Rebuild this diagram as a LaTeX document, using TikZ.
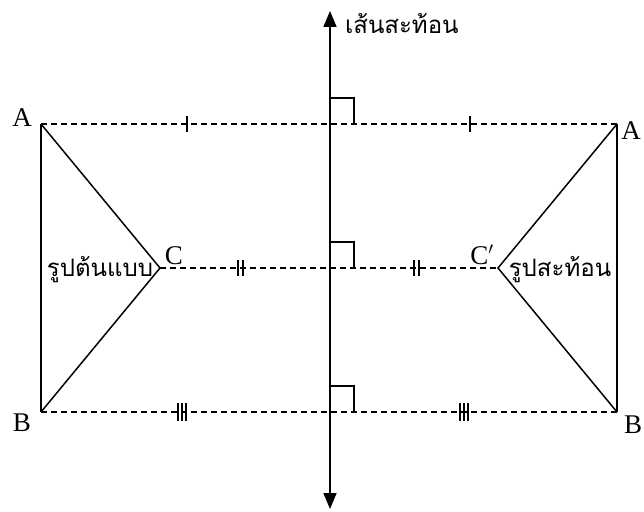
\documentclass[tikz,border=0pt]{standalone}
\usepackage{fontspec}
\setmainfont{Liberation Serif}
\newfontfamily\thaifont[Script=Thai]{Loma}
\usetikzlibrary{arrows.meta}
\tikzset{
  edge/.style={line width=1.5pt},
  dline/.style={line width=1.4pt, dash pattern=on 6pt off 4pt},
  tick/.style={line width=1.4pt},
  lbl/.style={font=\fontsize{27}{30}\selectfont, inner sep=0pt, anchor=base},
  thai/.style={font=\thaifont\fontsize{24}{28}\selectfont, inner sep=0pt, anchor=base},
  rmark/.style={line width=1.4pt},
}
\begin{document}
\begin{tikzpicture}[x=1pt,y=-1pt]
\useasboundingbox (0,0) rectangle (644,511);
% points
\coordinate (A) at (41,124);
\coordinate (B) at (41,412);
\coordinate (C) at (160,268);
\coordinate (A2) at (617,124);
\coordinate (B2) at (617,412);
\coordinate (C2) at (498,268);
\coordinate (top) at (330,11);
\coordinate (bot) at (330,509);
% axis
\draw[edge, {Triangle[length=16pt,width=13pt]}-{Triangle[length=16pt,width=13pt]}] (bot) -- (top);
% dashed
\draw[dline] (A) -- (A2);
\draw[dline] (C) -- (C2);
\draw[dline] (B) -- (B2);
% triangles
\draw[edge, line join=miter] (A) -- (B);
\draw[edge, line join=miter] (A) -- (C) -- (B);
\draw[edge, line join=miter] (A2) -- (B2);
\draw[edge, line join=miter] (A2) -- (C2) -- (B2);
% right angle marks
\draw[rmark] (330,98) -- (354,98) -- (354,124);
\draw[rmark] (330,242) -- (354,242) -- (354,268);
\draw[rmark] (330,386) -- (354,386) -- (354,412);
% single ticks
\draw[tick] (187,116) -- (187,132);
\draw[tick] (470,116) -- (470,132);
% double ticks
\draw[tick] (238,260) -- (238,276) (243,260) -- (243,276);
\draw[tick] (414,260) -- (414,276) (419,260) -- (419,276);
% triple ticks
\draw[tick] (178,403) -- (178,421) (182,403) -- (182,421) (186,403) -- (186,421);
\draw[tick] (460,403) -- (460,421) (464,403) -- (464,421) (468,403) -- (468,421);
% labels
\node[lbl] (la) at (22,126) {A};
\node[lbl] (la2) at (631,139) {A};
\node[lbl] (lb) at (22,431) {B};
\node[lbl] (lb2) at (633,433) {B};
\node[lbl] (lc) at (174,264) {C};
\node[lbl] (lc2) at (482,264) {C$'$};
\node[thai] (t1) at (100,276) {รูปต้นแบบ};
\node[thai] (t2) at (560,276) {รูปสะท้อน};
\node[thai, anchor=base west] (t3) at (345,34) {เส้นสะท้อน};
\end{tikzpicture}
\end{document}
